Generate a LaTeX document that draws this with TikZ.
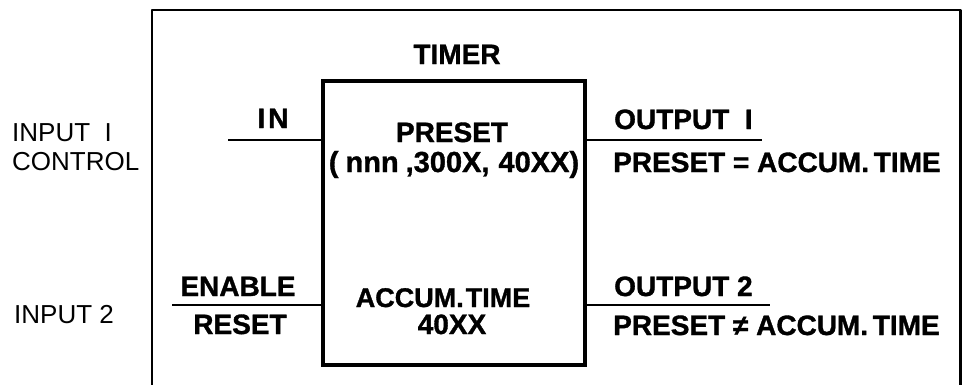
\documentclass[tikz,border=0pt]{standalone}
\usepackage{fontspec}
\setmainfont{Liberation Sans}[BoldFeatures={FakeBold=1.2}]
\begin{document}
\begin{tikzpicture}[x=1pt,y=-1pt,
  frame/.style={line width=2.4pt,line cap=round,line join=round},
  wire/.style={line width=2.8pt},
  lbl/.style={font=\fontsize{28}{30}\selectfont\bfseries,inner sep=0pt,anchor=base},
  lblr/.style={font=\fontsize{26}{30}\selectfont,inner sep=0pt,anchor=base west},
  lbll/.style={lbl,anchor=base west}]
\useasboundingbox (0,0) rectangle (962,384);
% outer frame
\coordinate (fbl) at (152,390);
\coordinate (ftl) at (152,10);
\coordinate (ftr) at (960.5,10);
\coordinate (fbr) at (960.5,390);
\draw[frame] (fbl) -- (ftl) -- (ftr) -- (fbr);
% timer box
\node[draw,line width=3.4pt,minimum width=262pt,minimum height=284pt,inner sep=0pt] (box) at (454,223) {};
\node[lbl] (timer) at (457,64) {TIMER};
\node[lbl] (preset) at (452,142) {PRESET};
\node[lbl,font=\fontsize{29}{30}\selectfont\bfseries] (range) at (454,172) {(\hspace{7pt}nnn\hspace{7pt},300X,\hspace{9pt}40XX)};
\node[lbl,font=\fontsize{27}{30}\selectfont\bfseries] (accum) at (443,307) {ACCUM.\hspace{2pt}TIME};
\node[lbl] (acx) at (452,334) {40XX};
% inputs
\coordinate (in1) at (228,140);
\coordinate (in2) at (172,305);
\draw[wire] (in1) -- (box.west |- in1);
\draw[wire] (in2) -- (box.west |- in2);
\node[lbl] (inl) at (273,128) {I\hspace{3pt}N};
\node[lbl] (enable) at (238,296) {ENABLE};
\node[lbl] (reset) at (240,334) {RESET};
\node[lblr] (i1) at (12,141) {INPUT\ \ I};
\node[lblr] (ctl) at (12,170) {CONTROL};
\node[lblr] (i2) at (14,323) {INPUT 2};
% outputs
\coordinate (o1) at (762,140);
\coordinate (o2) at (770,305);
\draw[wire] (box.east |- o1) -- (o1);
\draw[wire] (box.east |- o2) -- (o2);
\node[lbll] (out1) at (614,129) {OUTPUT\ \ I};
\node[lbll] (eq) at (613,172) {PRESET = ACCUM.\,TIME};
\node[lbll] (out2) at (614,296) {OUTPUT 2};
\node[lbll] (ne) at (613,335) {PRESET ≠ ACCUM.\,TIME};
\end{tikzpicture}
\end{document}
